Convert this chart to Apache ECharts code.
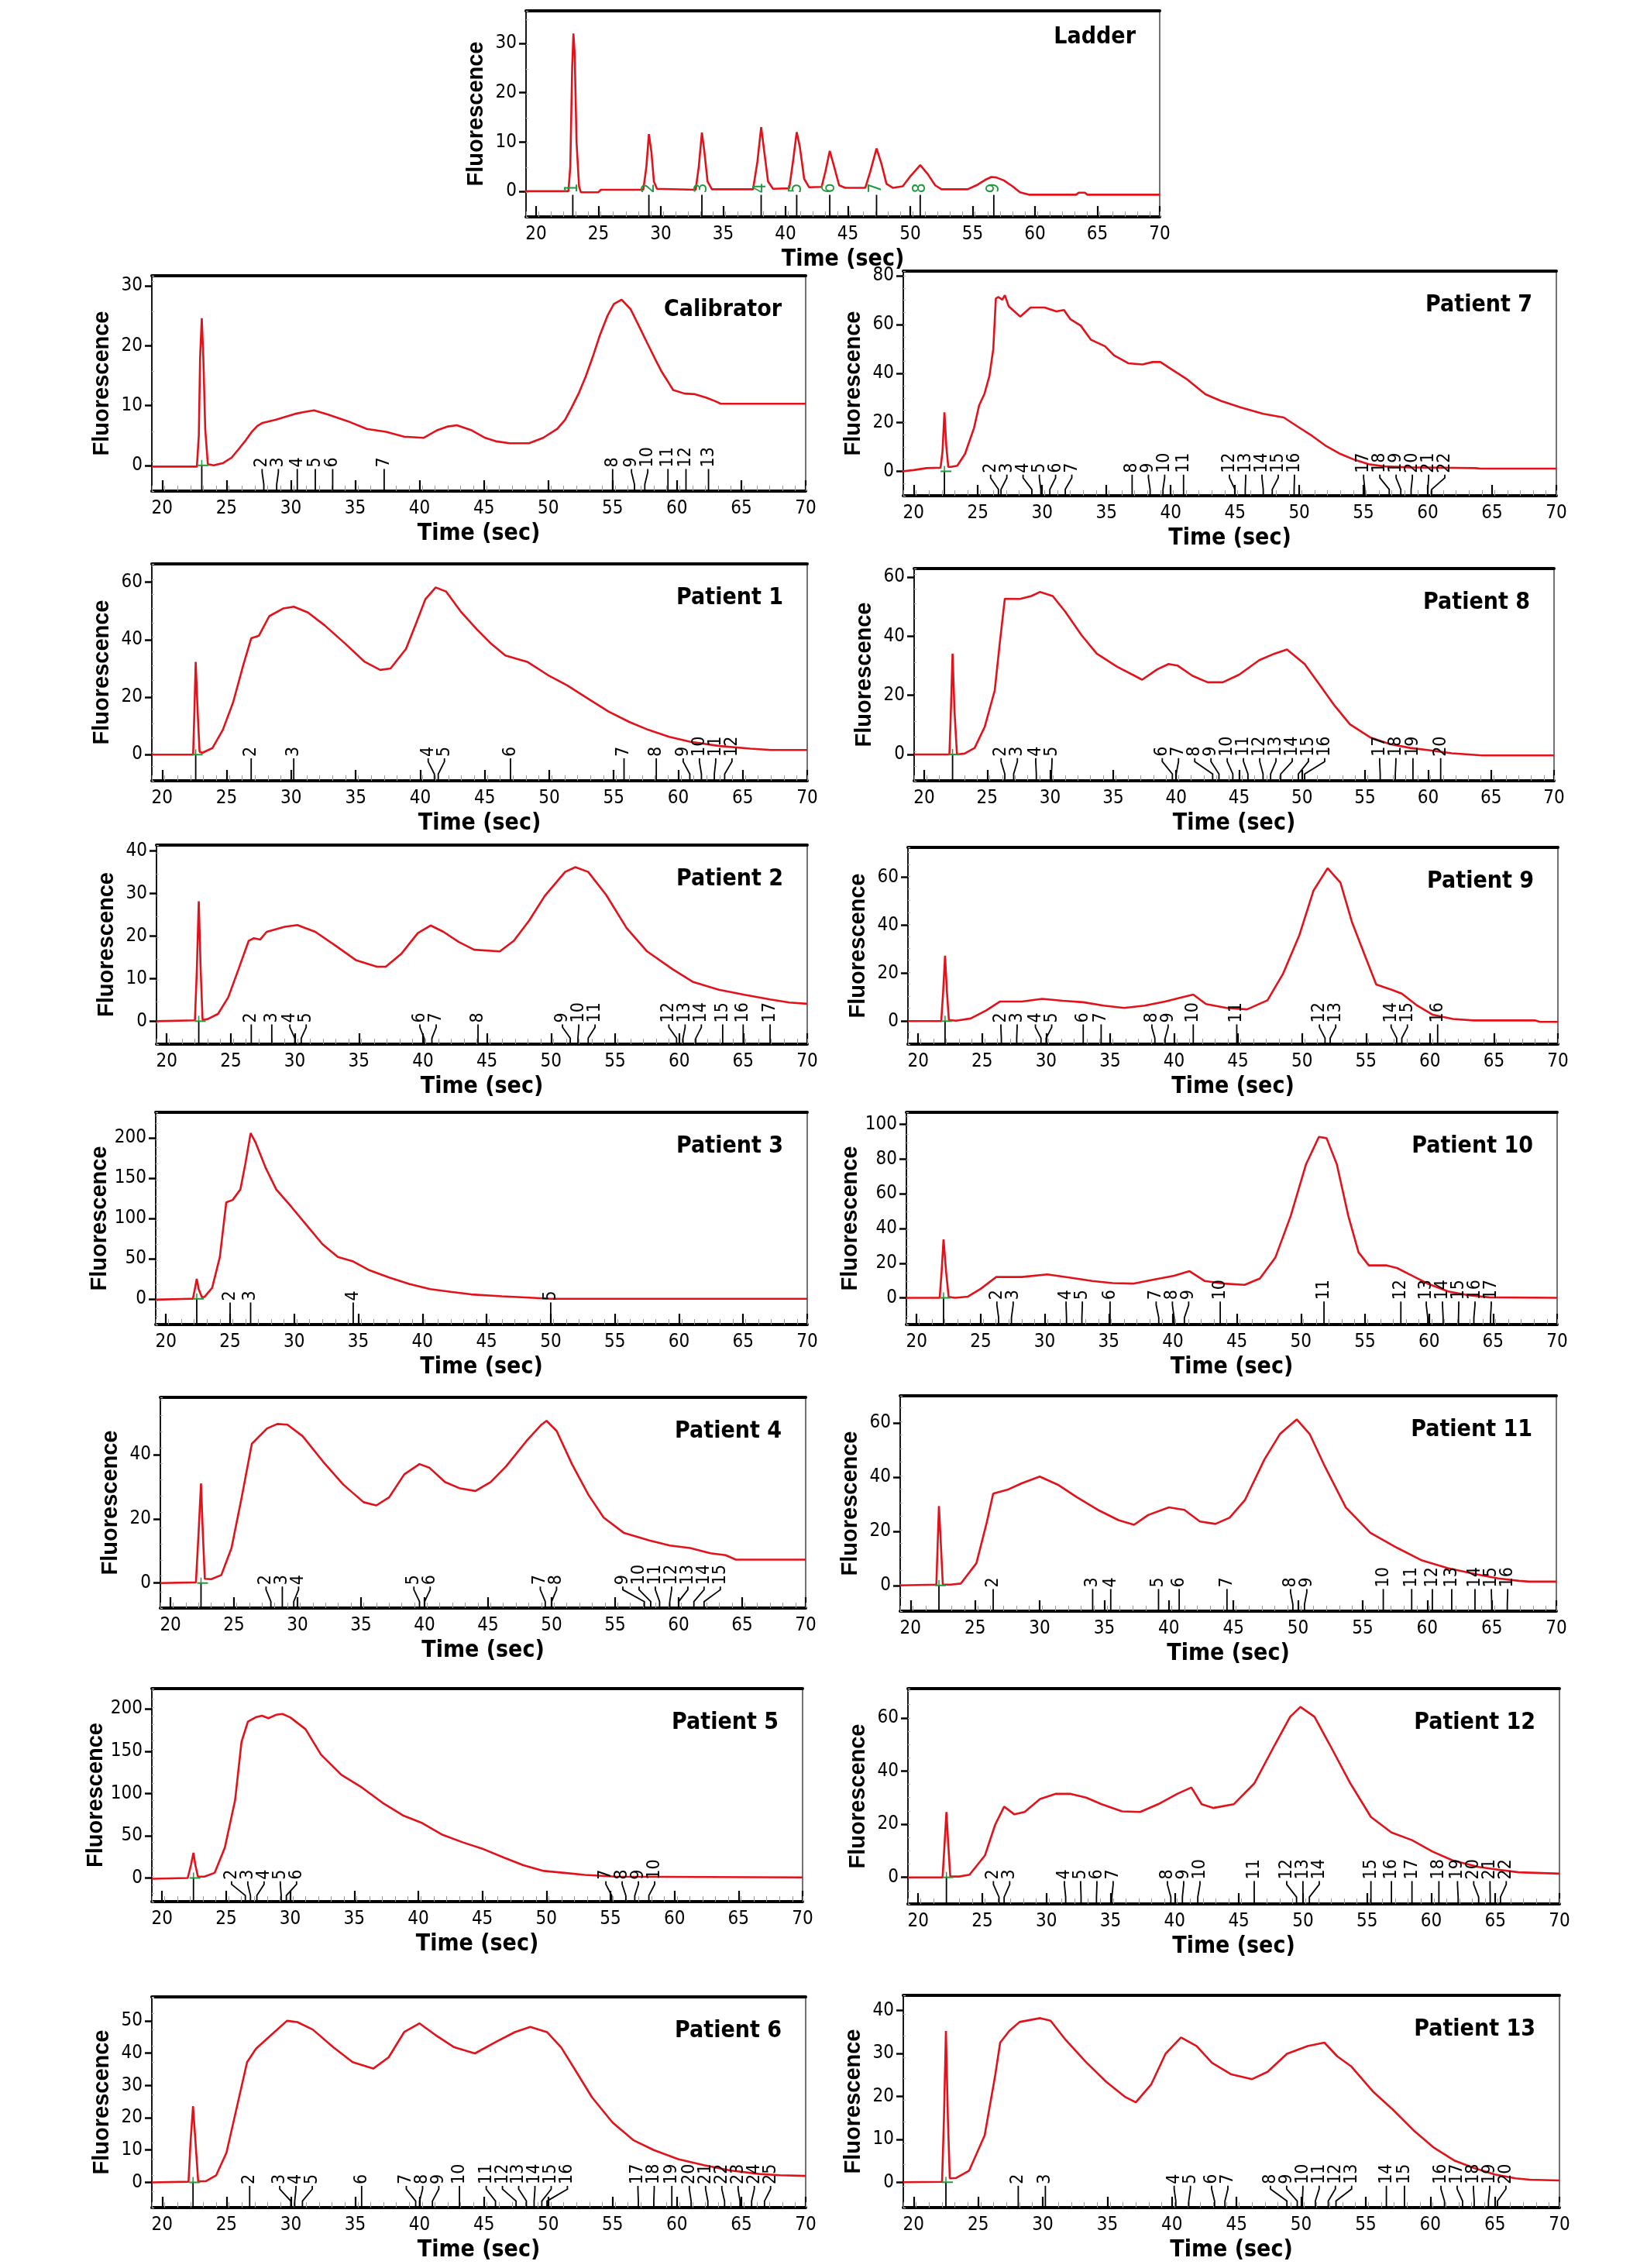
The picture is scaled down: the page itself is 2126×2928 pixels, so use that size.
<!DOCTYPE html>
<html><head><meta charset="utf-8">
<script src="https://cdn.jsdelivr.net/npm/echarts@6/dist/echarts.min.js"></script>
<style>html,body{margin:0;padding:0;background:#fff}#c{width:2126px;height:2928px}</style>
</head><body><div id="c"></div>
<script>
// ---------- DATA ----------
const xTicks = [20,25,30,35,40,45,50,55,60,65,70];

const ladderCurve = [[19.1,0],[22.6,0],[22.75,5],[22.9,25],[23.0,32],[23.1,28],[23.25,10],[23.45,1],[23.6,-0.2],[25.0,-0.2],[25.2,0.3],[28.6,0.3],[28.85,5],[29.05,11.6],[29.25,8],[29.45,2],[29.7,0.5],[32.8,0.3],[33.05,5],[33.3,11.9],[33.5,8],[33.75,2],[34.1,0.4],[37.4,0.4],[37.75,6],[38.05,13.0],[38.3,8],[38.6,2],[39.0,0.5],[40.3,0.6],[40.6,6],[40.9,12.0],[41.15,9],[41.5,2.5],[41.9,0.8],[42.9,0.9],[43.2,4],[43.55,8.2],[43.9,5],[44.3,1.2],[44.8,0.7],[46.4,0.7],[46.8,4],[47.3,8.7],[47.7,5.5],[48.1,1.5],[48.6,0.7],[49.4,1.0],[50.0,3],[50.8,5.3],[51.4,3.5],[52.0,1.2],[52.5,0.4],[54.6,0.4],[55.3,1.2],[56.0,2.3],[56.5,2.9],[56.9,2.8],[57.5,2.2],[58.2,1.0],[58.8,-0.2],[59.5,-0.7],[63.3,-0.7],[63.5,-0.3],[64.0,-0.3],[64.2,-0.7],[70,-0.7]];
const ladderMarkers = [22.95,29.05,33.3,38.05,40.9,43.55,47.3,50.8,56.7];
const ladderYTicks = [0,10,20,30];

const calibratorCurve = [[19.2,-0.2],[22.7,-0.2],[22.85,5],[22.95,18],[23.08,24.6],[23.2,18],[23.35,6],[23.55,0.2],[24.0,0],[24.75,0.4],[25.4,1.3],[25.9,2.6],[26.5,4.2],[27.0,5.7],[27.4,6.6],[27.8,7.1],[28.8,7.6],[30.3,8.6],[31.0,8.9],[31.8,9.2],[32.9,8.5],[34.4,7.4],[35.9,6.1],[37.4,5.6],[38.8,4.8],[40.3,4.6],[41.4,5.9],[42.2,6.5],[42.9,6.7],[44.0,5.9],[45.1,4.6],[46.0,4.0],[47.0,3.7],[48.5,3.7],[49.6,4.6],[50.7,6.1],[51.3,7.6],[51.8,9.6],[52.4,12.2],[52.9,14.8],[53.5,18.4],[54.0,21.7],[54.6,25.0],[55.1,27.0],[55.7,27.7],[56.4,26.1],[57.0,23.5],[57.7,20.4],[58.3,17.8],[58.8,15.7],[59.3,14.0],[59.7,12.6],[60.6,12.0],[61.4,11.9],[62.3,11.3],[63.0,10.7],[63.4,10.3],[70,10.3]];
const calibratorMarkers = [23.08,27.9,28.9,30.5,31.9,33.25,37.25,55.0,56.7,57.5,59.3,60.7,62.45];
const calibratorYTicks = [0,10,20,30];

const p1Curve = [[19.2,0],[22.4,0],[22.5,15],[22.6,32.3],[22.75,15],[22.9,1],[23.1,0.6],[23.9,2.3],[24.7,8.6],[25.5,18.2],[26.3,31.4],[26.9,40.5],[27.5,41.4],[28.3,48.2],[29.4,50.9],[30.2,51.5],[31.3,49.5],[32.6,45.0],[34.2,38.6],[35.7,32.3],[36.9,29.5],[37.7,30.0],[38.9,36.8],[39.7,45.9],[40.4,54.1],[41.2,58.2],[42.0,56.8],[43.2,49.5],[44.4,43.6],[45.5,38.6],[46.6,34.5],[48.3,32.3],[49.9,27.7],[51.4,24.1],[53.0,19.5],[54.6,15.0],[56.2,11.4],[57.7,8.6],[59.3,6.2],[60.9,4.5],[63.2,3.0],[65.6,2.1],[67.2,1.6],[70,1.6]];
const p1Markers = [22.6,26.9,30.2,41.1,41.4,47.0,55.8,58.3,60.9,61.8,62.8,63.6];
const p1YTicks = [0,20,40,60];

const p2Curve = [[19.2,0],[22.2,0.2],[22.35,12],[22.5,28.2],[22.65,12],[22.8,0.3],[23.2,0.5],[24.0,1.7],[24.8,5.6],[25.6,12.2],[26.4,18.9],[26.8,19.5],[27.3,19.2],[27.8,21.0],[29.2,22.2],[30.2,22.6],[31.6,21.0],[33.2,17.7],[34.8,14.3],[36.4,12.8],[37.1,12.8],[38.3,15.8],[39.6,20.7],[40.6,22.5],[41.6,21.0],[42.8,18.6],[44.0,16.8],[46.0,16.4],[47.1,18.9],[48.3,23.7],[49.5,29.4],[51.1,35.1],[51.9,36.2],[52.9,35.1],[54.3,29.7],[55.9,21.9],[57.5,16.4],[59.5,12.2],[61.1,9.2],[63.1,7.4],[65.1,6.2],[67.1,5.1],[68.6,4.4],[70,4.1]];
const p2Markers = [22.5,26.6,28.2,30.0,30.5,40.1,40.7,44.3,51.5,52.1,52.9,59.8,60.3,61.3,63.4,65.0,67.1];
const p2YTicks = [0,10,20,30,40];

const p3Curve = [[19.2,-1],[21.8,0],[22.1,0],[22.25,12],[22.4,24.9],[22.55,12],[22.8,2],[23.0,2.3],[23.6,13.6],[24.2,52],[24.7,120],[25.2,123],[25.8,136],[26.2,169],[26.6,206],[27.0,194],[27.8,162],[28.6,136],[29.8,114],[31.0,91],[32.2,68],[33.4,52],[34.6,46.5],[35.8,36],[37.4,26.5],[39.0,18.4],[40.6,12.0],[42.2,8.7],[43.8,5.5],[46.2,3.2],[48.6,1.3],[50.0,0],[70,0]];
const p3Markers = [22.4,25.0,26.6,34.6,50.0];
const p3YTicks = [0,50,100,150,200];

const p4Curve = [[19.2,0],[22.0,0.2],[22.2,15],[22.4,31.1],[22.55,15],[22.7,1.3],[23.2,1.2],[24.0,2.5],[24.8,10.9],[25.6,26.7],[26.4,43.4],[27.6,48.2],[28.4,49.6],[29.2,49.4],[30.4,45.8],[32.0,37.9],[33.6,30.7],[35.2,25.2],[36.2,24.2],[37.2,26.7],[38.4,33.9],[39.6,37.1],[40.4,35.9],[41.6,31.5],[42.8,29.5],[44.0,28.7],[45.2,31.5],[46.4,36.3],[48.0,44.2],[49.2,49.4],[49.6,50.6],[50.4,47.4],[51.6,37.1],[52.9,27.5],[54.1,20.4],[55.7,15.6],[57.7,13.3],[59.3,11.7],[60.9,10.9],[62.5,9.3],[63.7,8.7],[64.5,7.3],[70,7.3]];
const p4Markers = [22.4,27.9,28.8,29.7,39.6,40.0,49.5,50.0,57.3,57.8,58.5,59.3,60.0,61.2,62.0];
const p4YTicks = [0,20,40];

const p5Curve = [[19.2,-1],[22.0,0],[22.25,15],[22.45,29.8],[22.6,15],[22.8,1.5],[23.3,1.5],[24.1,6],[24.9,36],[25.7,92],[26.2,161],[26.7,185],[27.3,190],[27.8,192],[28.3,189],[28.9,193],[29.4,194],[30.0,190],[31.2,176],[32.4,146],[34.0,122],[35.6,107],[37.2,89],[38.8,74],[40.3,65],[41.9,51],[43.5,42],[45.1,34],[46.7,24],[48.2,15],[49.8,8.3],[51.4,6],[53.0,3.6],[55.4,1.5],[70,0.6]];
const p5Markers = [22.45,26.5,26.9,27.4,29.3,29.7,55.1,56.2,56.9,58.0];
const p5YTicks = [0,50,100,150,200];

const p6Curve = [[19.2,0],[22.05,0.2],[22.2,12],[22.4,23.6],[22.6,12],[22.8,0.3],[23.4,0.4],[24.2,2.2],[25.0,9.2],[25.8,23.2],[26.6,37.2],[27.3,41.4],[28.5,45.7],[29.7,50.0],[30.5,49.6],[31.7,47.3],[33.3,41.8],[34.8,37.2],[36.4,35.2],[37.6,38.7],[38.8,46.5],[40.0,49.2],[41.2,45.7],[42.7,41.8],[44.3,39.9],[45.9,43.4],[47.4,46.5],[48.6,48.1],[49.9,46.5],[51.0,41.8],[52.2,34.1],[53.4,26.3],[55.0,18.5],[56.6,13.1],[58.2,10.0],[60.1,7.2],[62.1,5.3],[64.1,3.7],[66.4,2.6],[68.0,2.2],[70,2.0]];
const p6Markers = [22.4,26.8,30.0,30.3,30.9,35.5,39.7,40.0,41.0,43.1,45.9,47.5,48.3,48.9,49.5,49.9,57.0,58.2,59.6,61.1,62.4,63.7,64.9,65.8,66.8];
const p6YTicks = [0,10,20,30,40,50];

const p7Curve = [[19.1,0],[20,0.5],[21,1.3],[22.1,1.5],[22.25,8],[22.4,24.1],[22.55,10],[22.7,1.8],[22.9,1.8],[23.4,2.3],[24.0,7.1],[24.7,17.7],[25.1,27],[25.5,31.5],[25.9,39],[26.2,50],[26.4,70.7],[26.6,71.3],[26.9,70.2],[27.1,72],[27.4,67.5],[28.3,63.3],[29.1,67.0],[30.2,67.0],[31.1,65.4],[31.7,66],[32.2,62.2],[33.0,59.6],[33.8,53.8],[34.9,51.1],[35.6,47.4],[36.7,44.2],[37.8,43.7],[38.6,44.7],[39.2,44.7],[40.1,41.6],[41.2,37.9],[42.7,31.5],[43.9,28.8],[45.4,26.2],[47.2,23.5],[48.8,22.0],[49.9,18.2],[51.0,14.5],[52.1,10.3],[53.2,7.1],[54.3,4.7],[55.4,2.9],[56.6,2.0],[58.5,1.6],[62.2,1.4],[63.7,1.3],[64.1,1.1],[70,1.1]];
const p7Markers = [22.4,26.6,26.8,29.2,29.9,30.6,31.8,37.0,38.4,39.4,41.0,45.0,45.8,47.2,47.9,49.6,55.1,57.0,57.9,58.7,60.0,60.3];
const p7YTicks = [0,20,40,60,80];

const p8Curve = [[19.2,0],[22.0,0],[22.12,15],[22.25,34.1],[22.4,15],[22.6,0],[23.2,0.3],[24.0,2.2],[24.8,9.3],[25.6,21.7],[26.0,37.7],[26.4,52.7],[27.6,52.6],[28.5,53.6],[29.2,55.0],[30.2,53.6],[31.2,48.3],[32.5,40.3],[33.7,34.1],[35.3,29.7],[37.3,25.3],[38.5,28.8],[39.4,30.6],[40.1,30.1],[41.3,26.6],[42.5,24.4],[43.7,24.4],[45.0,27.0],[46.6,31.9],[47.8,34.1],[48.8,35.5],[50.2,30.6],[51.4,23.5],[52.6,16.4],[53.8,10.2],[55.4,5.8],[57.0,3.5],[58.6,2.2],[60.3,1.3],[61.9,0.4],[64.3,-0.3],[70,-0.3]];
const p8Markers = [22.25,26.4,27.1,28.9,30.1,39.7,40.0,42.9,43.4,44.5,45.7,46.9,47.5,48.3,49.7,50.2,56.2,57.4,58.8,61.0];
const p8YTicks = [0,20,40,60];

const p9Curve = [[19.2,0],[21.8,0],[21.95,12],[22.1,27.3],[22.25,12],[22.4,0.5],[22.95,0.2],[24.1,1.1],[25.3,4.4],[26.4,8.2],[28.1,8.2],[29.7,9.3],[31.3,8.5],[32.9,7.9],[34.5,6.5],[36.1,5.5],[37.7,6.5],[39.3,8.2],[40.5,9.8],[41.5,11.1],[42.5,7.1],[44.1,5.5],[45.7,4.9],[47.3,8.7],[48.5,19.6],[49.8,36.0],[50.9,54.5],[52.0,63.8],[53.0,57.8],[53.9,41.4],[55.0,26.2],[55.8,15.3],[57.0,13.1],[57.8,11.5],[59.0,6.5],[60.2,2.7],[61.8,0.9],[63.4,0.3],[68.2,0.3],[68.6,-0.3],[70,-0.3]];
const p9Markers = [22.1,26.5,27.7,29.6,30.0,32.9,34.3,38.5,39.3,41.5,44.9,51.8,52.2,57.4,57.8,60.6];
const p9YTicks = [0,20,40,60];

const p10Curve = [[19.2,0],[21.8,0],[21.95,15],[22.1,33.7],[22.3,15],[22.5,0.5],[23.0,0],[24.0,0.7],[25.0,5.2],[26.2,12.0],[28.2,12.0],[30.2,13.5],[32.1,11.5],[33.7,9.7],[35.3,8.5],[36.9,8.2],[38.5,10.5],[40.1,12.7],[41.3,15.4],[42.5,9.7],[44.0,8.2],[45.6,7.5],[46.8,11.2],[48.0,23.2],[49.2,47.2],[50.4,77.1],[51.4,92.8],[52.0,92.1],[52.8,77.1],[53.7,47.2],[54.5,26.2],[55.3,18.7],[56.7,18.7],[57.5,17.2],[58.7,12.7],[59.9,8.2],[61.5,3.7],[63.1,1.5],[64.7,0.3],[70,0]];
const p10Markers = [22.1,26.4,27.4,31.7,32.9,35.1,38.9,40.1,40.9,43.7,51.8,57.8,59.9,61.1,62.3,63.5,64.8];
const p10YTicks = [0,20,40,60,80,100];

const p11Curve = [[19.2,0],[22.0,0.3],[22.1,15],[22.2,29.3],[22.35,15],[22.5,0.3],[23.1,0.3],[23.9,0.7],[25.1,8.2],[25.9,23.2],[26.4,33.9],[27.5,35.3],[28.6,37.7],[30.0,40.2],[31.4,37.2],[32.9,32.5],[34.5,27.9],[36.1,24.1],[37.3,22.4],[38.4,26.0],[40.0,28.8],[41.2,27.9],[42.4,23.6],[43.6,22.7],[44.7,25.0],[45.9,31.6],[47.4,46.5],[48.6,55.9],[49.9,61.3],[50.9,55.9],[52.1,43.7],[53.7,28.8],[55.6,19.4],[57.7,13.8],[59.6,9.2],[61.6,6.4],[63.9,4.0],[65.5,2.6],[67.1,1.7],[67.9,1.4],[70,1.4]];
const p11Markers = [22.2,26.4,34.1,35.5,39.2,40.8,44.5,49.6,50.5,56.6,58.8,60.4,61.9,63.7,65.0,66.2];
const p11YTicks = [0,20,40,60];

const p12Curve = [[19.2,0],[21.9,0],[22.05,12],[22.2,24.6],[22.35,12],[22.5,0.3],[23.2,0.3],[24.0,1.0],[25.2,8.2],[26.0,19.8],[26.7,26.6],[27.5,23.7],[28.3,24.6],[29.5,29.5],[30.7,31.4],[31.9,31.4],[33.1,30.0],[34.3,27.5],[35.9,24.8],[37.3,24.6],[38.7,27.5],[40.2,31.4],[41.3,33.8],[42.1,27.5],[43.0,26.1],[44.6,27.5],[46.2,35.3],[47.8,49.8],[49.0,60.4],[49.8,64.1],[50.9,60.4],[52.1,49.8],[53.7,35.3],[55.3,22.7],[56.9,16.9],[58.5,14.0],[60.1,9.7],[61.7,6.3],[63.7,3.9],[65.2,2.9],[66.8,1.9],[70,1.4]];
const p12Markers = [22.2,26.3,26.7,31.5,32.7,33.9,35.1,39.7,40.6,41.8,46.2,49.5,50.0,50.5,55.3,56.9,58.5,60.6,62.1,63.7,64.6,65.4];
const p12YTicks = [0,20,40,60];

const p13Curve = [[19.2,0],[22.2,0.1],[22.35,15],[22.5,35.2],[22.65,15],[22.8,0.9],[23.3,1.0],[24.3,2.7],[25.5,10.9],[26.3,24.6],[26.7,32.5],[27.4,35.2],[28.2,37.3],[29.8,38.2],[30.6,37.6],[31.7,33.4],[33.3,28.1],[34.9,23.4],[36.4,19.8],[37.2,18.6],[38.4,22.8],[39.5,29.9],[40.7,33.7],[41.9,31.7],[43.1,27.8],[44.6,25.1],[46.2,24.0],[47.4,25.7],[48.9,29.9],[50.5,31.7],[51.8,32.5],[52.8,29.3],[53.9,26.9],[55.6,21.0],[57.1,16.9],[58.7,12.1],[60.3,8.0],[61.9,5.0],[63.4,3.3],[65.0,1.8],[66.6,0.9],[67.7,0.6],[70,0.4]];
const p13Markers = [22.5,28.1,30.2,40.3,41.3,43.3,44.1,48.9,49.7,50.1,51.1,52.1,52.7,56.6,58.0,61.1,62.5,63.4,64.5,65.2];
const p13YTicks = [0,10,20,30,40];

// ---------- PANEL CONFIG (layout: left, right, top, bottom in px) ----------
const panels = [
  {title:'Ladder',     curve:ladderCurve,     markers:ladderMarkers,     yTicks:ladderYTicks,     yMin:-5.2, yMax:36.6, yInt:10, box:[679,1497,14,280], ladder:true},
  {title:'Calibrator', curve:calibratorCurve, markers:calibratorMarkers, yTicks:calibratorYTicks, yMin:-4.3, yMax:31.7, yInt:10, box:[196,1040,356,634]},
  {title:'Patient 7',  curve:p7Curve,  markers:p7Markers,  yTicks:p7YTicks,  yMin:-10,  yMax:81.9, yInt:20, box:[1166,2009,350,640]},
  {title:'Patient 1',  curve:p1Curve,  markers:p1Markers,  yTicks:p1YTicks,  yMin:-9.1, yMax:66.4, yInt:20, box:[196,1042,728,1008]},
  {title:'Patient 8',  curve:p8Curve,  markers:p8Markers,  yTicks:p8YTicks,  yMin:-8.9, yMax:62.9, yInt:20, box:[1180,2006,734,1008]},
  {title:'Patient 2',  curve:p2Curve,  markers:p2Markers,  yTicks:p2YTicks,  yMin:-5.4, yMax:41.4, yInt:10, box:[202,1042,1091,1348]},
  {title:'Patient 9',  curve:p9Curve,  markers:p9Markers,  yTicks:p9YTicks,  yMin:-9.6, yMax:72.5, yInt:20, box:[1172,2011,1094,1348]},
  {title:'Patient 3',  curve:p3Curve,  markers:p3Markers,  yTicks:p3YTicks,  yMin:-32,  yMax:232,  yInt:50, box:[201,1042,1436,1710]},
  {title:'Patient 10', curve:p10Curve, markers:p10Markers, yTicks:p10YTicks, yMin:-15.4,yMax:107,  yInt:20, box:[1170,2010,1436,1710]},
  {title:'Patient 4',  curve:p4Curve,  markers:p4Markers,  yTicks:p4YTicks,  yMin:-7.8, yMax:57.9, yInt:20, box:[207,1040,1804,2076]},
  {title:'Patient 11', curve:p11Curve, markers:p11Markers, yTicks:p11YTicks, yMin:-9.5, yMax:70,   yInt:20, box:[1162,2009,1802,2080]},
  {title:'Patient 5',  curve:p5Curve,  markers:p5Markers,  yTicks:p5YTicks,  yMin:-28,  yMax:224,  yInt:50, box:[196,1036,2180,2455]},
  {title:'Patient 12', curve:p12Curve, markers:p12Markers, yTicks:p12YTicks, yMin:-10,  yMax:71,   yInt:20, box:[1172,2013,2180,2458]},
  {title:'Patient 6',  curve:p6Curve,  markers:p6Markers,  yTicks:p6YTicks,  yMin:-7.8, yMax:57.4, yInt:10, box:[196,1040,2578,2850]},
  {title:'Patient 13', curve:p13Curve, markers:p13Markers, yTicks:p13YTicks, yMin:-5.9, yMax:43.5, yInt:10, box:[1166,2013,2576,2850]}
];

const X_MIN = 19.2, X_MAX = 70;
const W = 2126;
const NARROW = "'Liberation Sans Narrow','DejaVu Sans Condensed','Liberation Sans',sans-serif";
const RED = '#e3121a';
const GREEN = '#1f9a3c';

function spread(xs, gap){
  const l = xs.slice(); const n = l.length;
  for (let it=0; it<400; it++){
    let moved = false;
    for (let j=0; j<n-1; j++){
      const d = l[j+1]-l[j];
      if (d < gap-0.05){ const s=(gap-d)/2; l[j]-=s; l[j+1]+=s; moved=true; }
    }
    if (!moved) break;
  }
  return l;
}

function makeRender(p){
  return function(params, api){
    const k = api.value(1);
    const xs = p.markers.map(m => api.coord([m, p.yMin])[0]);
    const lx = spread(xs, 21)[k];
    const base = api.coord([p.markers[k], p.yMin]);
    const zero = api.coord([p.markers[k], 0]);
    const axisY = base[1], x = base[0];
    const D = axisY - zero[1];
    const children = [];
    if (k === 0 && !p.ladder){
      children.push({type:'line', shape:{x1:x, y1:axisY, x2:x, y2:zero[1]}, style:{stroke:'#000', lineWidth:1.8}});
      children.push({type:'line', shape:{x1:x-5, y1:zero[1], x2:x+9, y2:zero[1]}, style:{stroke:GREEN, lineWidth:2}});
      children.push({type:'line', shape:{x1:x, y1:zero[1], x2:x, y2:zero[1]-7}, style:{stroke:GREEN, lineWidth:1.5}});
      return {type:'group', children};
    }
    const L = D*0.86;
    children.push({type:'polyline', shape:{points:[[x,axisY],[x,axisY-L*0.3],[lx,axisY-L*0.85],[lx,axisY-L]]}, style:{stroke:'#000', fill:null, lineWidth:1.8}});
    children.push({type:'text', x: lx, y: axisY-L-2, rotation: Math.PI/2,
      style:{text:String(k+1), fill: p.ladder ? GREEN : '#000', font:'23px ' + NARROW, align:'left', verticalAlign:'middle'}});
    return {type:'group', children};
  };
}

const option = {animation:false, backgroundColor:'#fff', grid:[], xAxis:[], yAxis:[], series:[], title:[]};

panels.forEach((p, i) => {
  const [l, r, t, b] = p.box;
  option.grid.push({left:l, top:t, width:r-l, height:b-t, show:true, borderColor:'#444', borderWidth:1.5, containLabel:false});
  const fmtX = v => (Math.abs(v - Math.round(v/5)*5) < 1e-6 ? String(Math.round(v)) : '');
  const fmtY = v => (Math.abs(v - Math.round(v/p.yInt)*p.yInt) < 1e-6 ? String(Math.round(v)) : '');
  option.xAxis.push({type:'value', gridIndex:i, min:X_MIN, max:X_MAX, interval:5, position:'bottom',
    axisLine:{show:true, onZero:false, lineStyle:{color:'#000', width:4}},
    axisTick:{show:true, inside:true, length:14, customValues:xTicks, lineStyle:{color:'#000', width:2.2}},
    axisLabel:{show:true, customValues:xTicks, formatter:fmtX, fontSize:24, margin:11, color:'#000', fontFamily:NARROW},
    splitLine:{show:false},
    name:'Time (sec)', nameLocation:'middle', nameGap:40,
    nameTextStyle:{fontSize:30, fontWeight:'bold', color:'#000', fontFamily:NARROW}});
  option.xAxis.push({type:'value', gridIndex:i, min:X_MIN, max:X_MAX, interval:1, position:'bottom',
    axisLine:{show:false, onZero:false}, axisTick:{show:true, inside:true, length:7, lineStyle:{color:'#9a9a9a', width:1}},
    axisLabel:{show:false}, splitLine:{show:false}});
  option.xAxis.push({type:'value', gridIndex:i, min:X_MIN, max:X_MAX, position:'top',
    axisLine:{show:true, onZero:false, lineStyle:{color:'#000', width:4}}, axisTick:{show:false}, axisLabel:{show:false}, splitLine:{show:false}});
  option.yAxis.push({type:'value', gridIndex:i, min:p.yMin, max:p.yMax, interval:p.yInt, position:'left',
    axisLine:{show:true, onZero:false, lineStyle:{color:'#000', width:1.6}},
    axisTick:{show:true, inside:false, length:9, customValues:p.yTicks, lineStyle:{color:'#000', width:2.5}},
    axisLabel:{show:true, customValues:p.yTicks, formatter:fmtY, fontSize:24, margin:12, color:'#000', fontFamily:NARROW},
    splitLine:{show:false},
    name:'Fluorescence', nameLocation:'middle', nameGap:50,
    nameTextStyle:{fontSize:29, fontWeight:'bold', color:'#000', fontFamily:"'Liberation Sans',Arial,sans-serif"}});
  option.yAxis.push({type:'value', gridIndex:i, min:p.yMin, max:p.yMax, interval: p.yInt===50 ? 10 : 5, position:'left',
    axisLine:{show:false, onZero:false}, axisTick:{show:true, inside:true, length:3, lineStyle:{color:'#bdbdbd', width:1.2}},
    axisLabel:{show:false}, splitLine:{show:false}});
  option.series.push({type:'line', xAxisIndex:3*i, yAxisIndex:2*i, data:p.curve, symbol:'none', showSymbol:false,
    lineStyle:{color:RED, width:2.6}, z:3, silent:true});
  option.series.push({type:'custom', xAxisIndex:3*i, yAxisIndex:2*i, data:p.markers.map((m,k)=>[m,k]),
    renderItem:makeRender(p), z:4, silent:true, clip:false});
  option.title.push({text:p.title, right: W - r + 26, top: t + (p.ladder ? 14 : 24),
    textStyle:{fontSize:30, fontWeight:'bold', color:'#000', fontFamily:NARROW}});
});

const chart = echarts.init(document.getElementById('c'), null, {renderer:'canvas'});
chart.setOption(option);
</script>
</body></html>
